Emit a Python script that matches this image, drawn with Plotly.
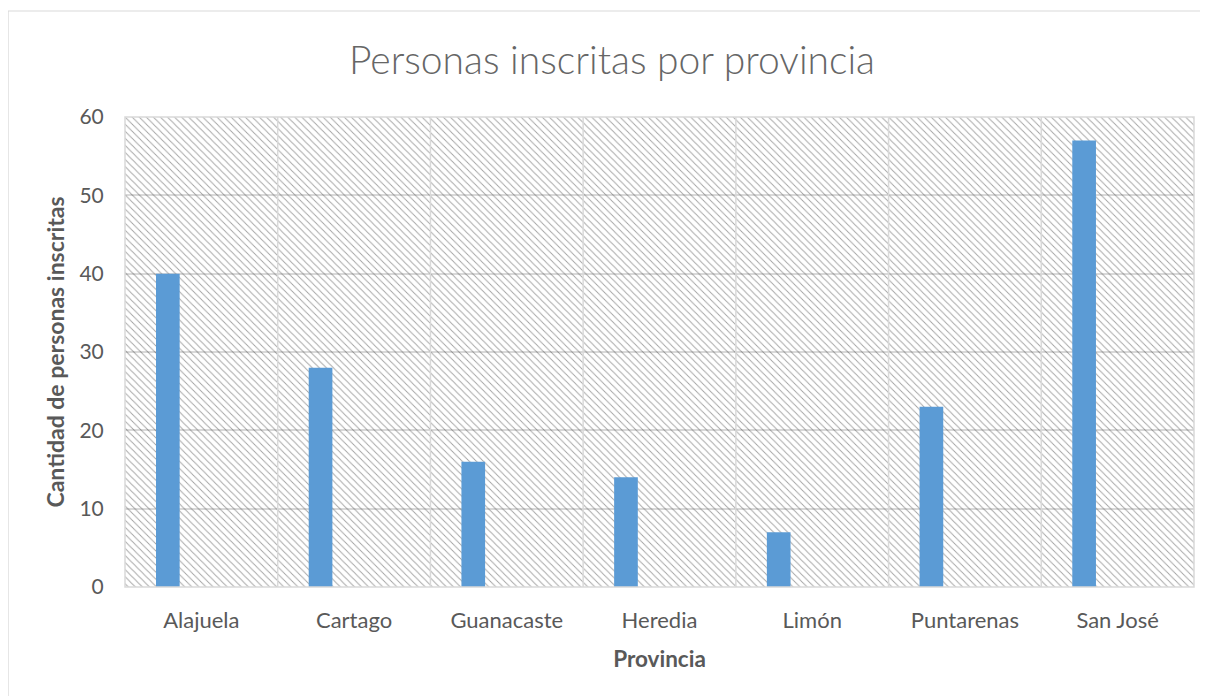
import plotly.graph_objects as go

provincias = ["Alajuela", "Cartago", "Guanacaste", "Heredia", "Limón", "Puntarenas", "San José"]
inscritas = [40, 28, 16, 14, 7, 23, 57]
y_ticks = [0, 10, 20, 30, 40, 50, 60]
Y_MAX = 60

FONT = "Lato, 'Open Sans', sans-serif"
TXT = "#595959"
GRID = "#d9d9d9"

fig = go.Figure()

# hatched plot-area background
fig.add_trace(go.Bar(
    x=provincias, y=[Y_MAX] * len(provincias), width=1,
    marker=dict(color="#e0e0e0", line=dict(width=0),
                pattern=dict(shape="\\", size=5, solidity=0.18, bgcolor="rgba(0,0,0,0)")),
    hoverinfo="skip", showlegend=False,
))

fig.add_trace(go.Bar(
    x=provincias, y=inscritas, width=0.155, offset=-0.297,
    marker=dict(color="#5b9bd5", line=dict(width=0)),
    showlegend=False,
))

fig.update_layout(
    width=1208, height=696,
    margin=dict(l=117, r=22, t=109, b=117),
    paper_bgcolor="white", plot_bgcolor="white",
    barmode="overlay",
    font=dict(family=FONT, color=TXT, size=22),
    title=dict(text="Personas inscritas por provincia", x=0.5, xref="container", xanchor="center",
               y=1 - 52 / 696, yref="container", yanchor="middle",
               font=dict(size=39, color="#666666", family=FONT, weight=300)),
    xaxis=dict(
        showgrid=False, showline=False, zeroline=False,
        ticks="outside", ticklen=14, tickcolor="rgba(0,0,0,0)",
        tickfont=dict(size=22, color=TXT),
        title=dict(text="<b>Provincia</b>", font=dict(size=22.5, color=TXT), standoff=18),
    ),
    yaxis=dict(
        range=[0, Y_MAX], tickvals=y_ticks,
        showgrid=True, gridcolor=GRID, gridwidth=1.5, zeroline=False, showline=False,
        ticks="outside", ticklen=16, tickcolor="rgba(0,0,0,0)",
        tickfont=dict(size=21, color=TXT),
        title=dict(text="<b>Cantidad de personas inscritas</b>", font=dict(size=23, color=TXT), standoff=8),
    ),
    shapes=[
        # category separators (vertical gridlines between categories)
        *[dict(type="line", xref="x", yref="y domain", x0=i - 0.5, x1=i - 0.5, y0=0, y1=1,
               line=dict(color=GRID, width=1.5), layer="above")
          for i in range(1, len(provincias))],
        # plot area border
        dict(type="rect", xref="paper", yref="paper", x0=0, x1=1, y0=0, y1=1,
             line=dict(color=GRID, width=1.5), layer="above"),
        # chart border
        dict(type="rect", xref="paper", yref="paper", x0=-0.1094, x1=1.05, y0=-0.3, y1=1.2255,
             line=dict(color=GRID, width=1.2), layer="above"),
    ],
)

fig.write_html("out.html")
